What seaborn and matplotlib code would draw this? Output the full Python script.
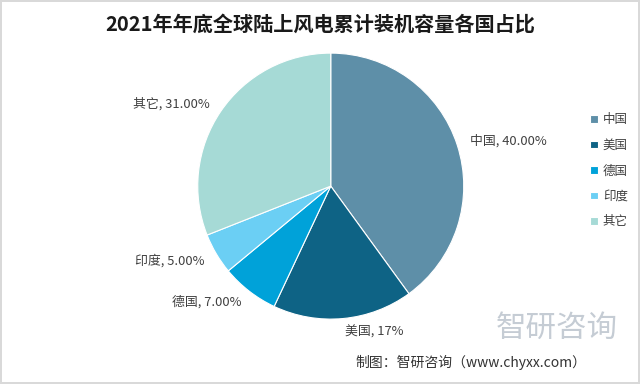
import matplotlib
matplotlib.use("Agg")
import matplotlib.pyplot as plt
import seaborn as sns

# data
countries = ['中国', '美国', '德国', '印度', '其它']
shares = [40, 17, 7, 5, 31]
label_texts = ['中国, 40.00%', '美国, 17%', '德国, 7.00%', '印度, 5.00%', '其它, 31.00%']
colors = ['#5E8FA8', '#0E6385', '#00A2D9', '#6BCFF4', '#A6DAD6']

sns.set_theme(style="white")
plt.rcParams['font.family'] = ['Noto Sans CJK SC', 'DejaVu Sans']

fig = plt.figure(figsize=(6.4, 3.84), dpi=100)
fig.patch.set_facecolor('white')
fig.patch.set_edgecolor('#d9d9d9')
fig.patch.set_linewidth(1.5)

ax = fig.add_axes([0.309, 0.169, 0.4156, 0.6927])
wedges, texts = ax.pie(shares, labels=label_texts, colors=sns.color_palette(colors),
                       startangle=90, counterclock=False, labeldistance=1.1,
                       wedgeprops=dict(edgecolor='white', linewidth=0.8),
                       textprops=dict(fontsize=9.3, color='#404040'))
ax.set_xlim(-1, 1)
ax.set_ylim(-1, 1)
ax.set_aspect('equal')

fig.suptitle('2021年年底全球陆上风电累计装机容量各国占比', x=0.5, y=0.965,
             fontsize=14.5, fontweight='bold', color='#1a1a1a')

fig.legend(wedges, countries, loc='center left', bbox_to_anchor=(0.905, 0.555),
           frameon=False, fontsize=9, handlelength=0.6, handleheight=0.6,
           handletextpad=0.4, labelspacing=1.0, labelcolor='#404040')

# watermark and source
fig.text(0.87, 0.145, '智研咨询', fontsize=22, color='#c5ccd4', ha='center', va='center')
fig.text(0.555, 0.055, '制图：智研咨询（www.chyxx.com）', fontsize=10, color='#333333',
         ha='left', va='center')

fig.savefig('out.png', dpi=100)
